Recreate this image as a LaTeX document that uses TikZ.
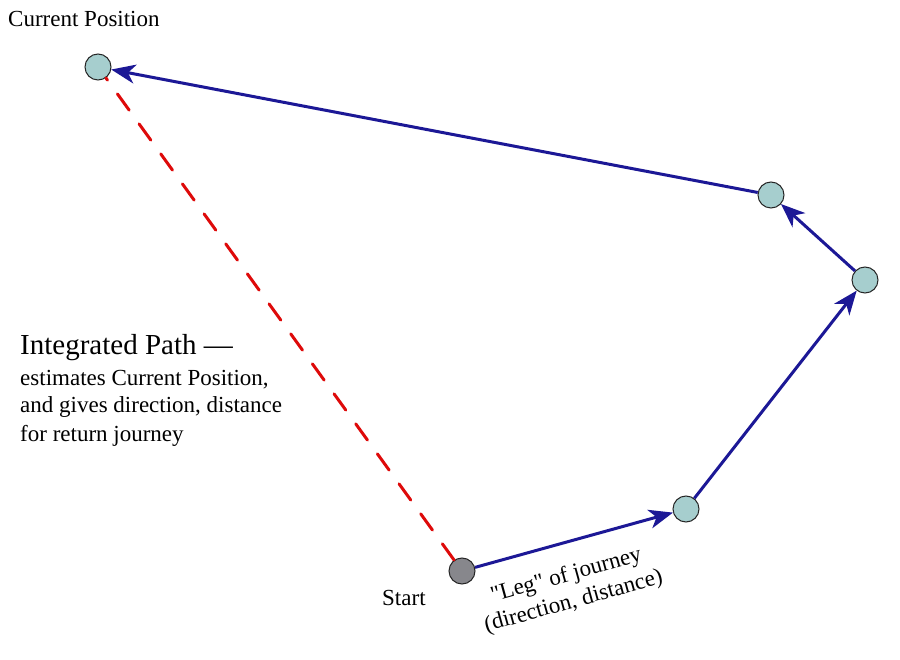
\documentclass[tikz,border=0pt]{standalone}
\usepackage{fontspec}
\setmainfont{Liberation Serif}
\usetikzlibrary{arrows.meta}
\definecolor{navy}{RGB}{28,24,150}
\definecolor{dred}{RGB}{222,10,10}
\definecolor{teal}{RGB}{166,206,206}
\definecolor{stgray}{RGB}{135,135,140}
\begin{document}
\begin{tikzpicture}[x=1pt,y=-1pt,
  pt/.style={circle,draw=black!85,line width=1pt,fill=teal,minimum size=26pt,inner sep=0pt},
  leg/.style={draw=navy,line width=3pt,-{Stealth[length=24pt,width=19pt,inset=7pt]}},
  ret/.style={draw=dred,line width=3pt,dash pattern=on 20pt off 17pt,line cap=round},
  lbl/.style={font=\fontsize{23}{27}\selectfont,inner sep=0pt},
  big/.style={font=\fontsize{29}{33}\selectfont,inner sep=0pt}]
\useasboundingbox (0,0) rectangle (900,660);
\fill[white] (0,0) rectangle (900,660);
\node[pt] (cur) at (98,67) {};
\node[pt] (p3) at (771,195) {};
\node[pt] (p2) at (865,280) {};
\node[pt] (p1) at (686,509) {};
\node[pt,fill=stgray] (st) at (462,571) {};
\draw[ret] (st) -- (cur);
\draw[leg] (st) -- (p1);
\draw[leg] (p1) -- (p2);
\draw[leg] (p2) -- (p3);
\draw[leg] (p3) -- (cur);
\node[lbl,anchor=base west] (tcur) at (8,27) {Current Position};
\node[lbl,anchor=base west] (tst) at (382,605) {Start};
\node[big,anchor=base west] (t1) at (20,355) {Integrated Path —};
\node[lbl,anchor=base west] (t2) at (20,385) {estimates Current Position,};
\node[lbl,anchor=base west] (t3) at (20,413) {and gives direction, distance};
\node[lbl,anchor=base west] (t4) at (20,441) {for return journey};
\node[lbl,align=center,rotate=15.5] (tleg) at (570,589) {\textquotedbl Leg\textquotedbl{} of journey\\(direction, distance)};
\end{tikzpicture}
\end{document}
